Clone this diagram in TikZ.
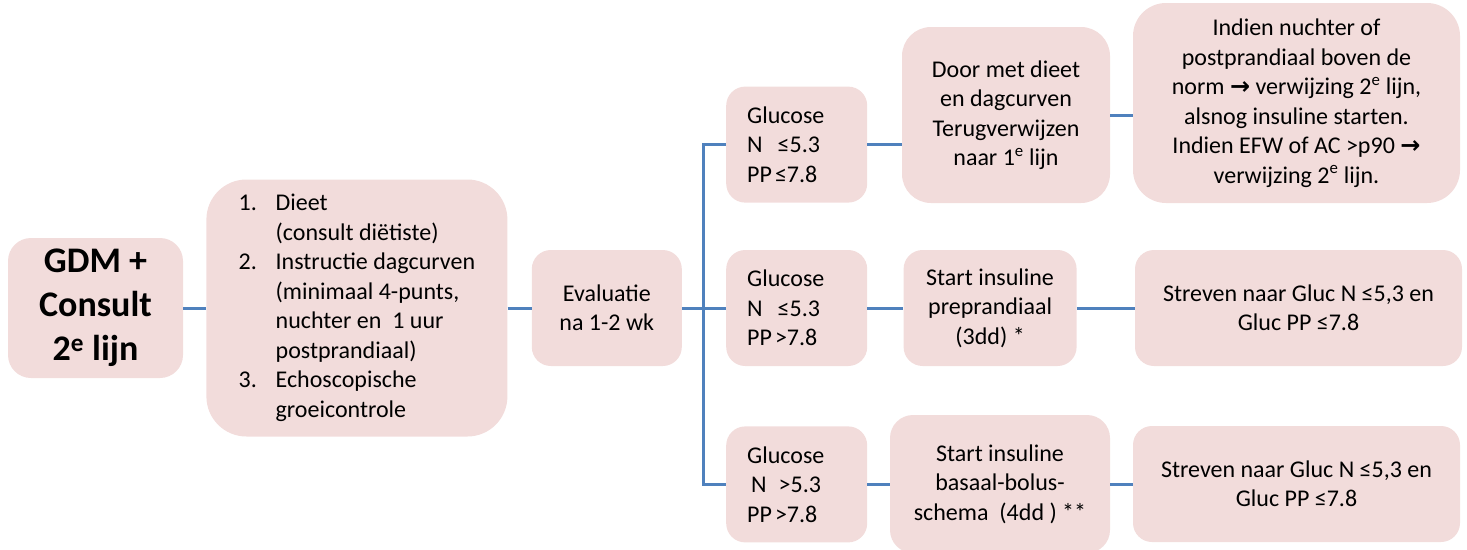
\documentclass[tikz,border=0pt]{standalone}
\usepackage{fontspec}
\setmainfont{Carlito}
\newfontfamily\symfont{DejaVu Sans}
\usepackage{tikz}
\usetikzlibrary{positioning}
\definecolor{roze}{HTML}{F2DCDB}
\definecolor{lijnblauw}{HTML}{4F81BD}
\tikzset{
    %Define style for boxes
    kader/.style={
           rectangle,
           rounded corners=19pt,
           fill=roze,
           draw=none,
           inner sep=0pt,
           minimum width=141pt,
           minimum height=116pt,
           align=center,
           font=\fontsize{24}{29.5}\selectfont},
    glukose/.style={
           kader,
           text width=99pt,
           align=left},
    % Define line style
    lijn/.style={
           draw=lijnblauw,
           line width=3pt}
}
\begin{document}
\begin{tikzpicture}[x=1pt,y=-1pt]
\useasboundingbox (0,0) rectangle (1467,549);
 %nodes
\node[kader, minimum width=175pt, minimum height=140pt, rounded corners=23pt, font=\bfseries\fontsize{36}{44}\selectfont](gdm) at (95.5,308){GDM +\\Consult\\2\textsuperscript{e} lijn};
\node[kader, minimum width=301pt, minimum height=257pt, rounded corners=40pt, align=left, right=23pt of gdm](advies){%
\makebox[37pt][l]{1.}Dieet\\
\hspace*{37pt}(consult diëtiste)\\
\makebox[37pt][l]{2.}Instructie dagcurven\\
\hspace*{37pt}(minimaal 4-punts,\\
\hspace*{37pt}nuchter en\ \ 1 uur\\
\hspace*{37pt}postprandiaal)\\
\makebox[37pt][l]{3.}Echoscopische\\
\hspace*{37pt}groeicontrole};
\node[kader, minimum width=150pt, right=24pt of advies](eval){Evaluatie\\na 1-2 wk};
\node[glukose, right=44pt of eval](gmid){Glucose\\N\hspace{15pt}≤5.3\\PP\hspace{3pt}>7.8};
\node[glukose, above=47pt of gmid](gtop){Glucose\\N\hspace{15pt}≤5.3\\PP\hspace{3pt}≤7.8};
\node[glukose, below=60pt of gmid](gbot){Glucose\\\hspace*{4pt}N\hspace{12pt}>5.3\\PP\hspace{3pt}>7.8};
\node[kader, minimum width=173pt, right=36pt of gmid](pre){Start insuline\\preprandiaal\\(3dd) *};
\node[kader, minimum width=327pt, right=58pt of pre](strevmid){Streven naar Gluc N ≤5,3 en\\Gluc PP ≤7.8};
\node[kader, minimum width=208pt, minimum height=176pt, rounded corners=29pt](door) at (1006,115){Door met dieet\\en dagcurven\\Terugverwijzen\\naar 1\textsuperscript{e} lijn};
\node[kader, minimum width=327pt, minimum height=200pt, rounded corners=33pt](indien) at (1296.5,103){Indien nuchter of\\postprandiaal boven de\\norm {\symfont\bfseries →} verwijzing 2\textsuperscript{e} lijn,\\alsnog insuline starten.\\Indien EFW of AC >p90 {\symfont\bfseries →}\\verwijzing 2\textsuperscript{e} lijn.};
\node[kader, minimum width=220pt, minimum height=138pt, rounded corners=23pt](basaal) at (1000,484){Start insuline\\basaal-bolus-\\schema\ \ (4dd ) **};
\node[kader, minimum width=327pt](strevbot) at (1296.5,484){Streven naar Gluc N ≤5,3 en\\Gluc PP ≤7.8};
\path (eval.east) ++(21pt,0pt) coordinate (splits);
 %lines
\draw[lijn] (gdm.east) -- (advies.west);
\draw[lijn] (advies.east) -- (eval.west);
\draw[lijn] (eval.east) -- (splits);
\draw[lijn] (gtop.west) -| (splits) |- (gbot.west);
\draw[lijn] (splits) -- (gmid.west);
\draw[lijn] (gtop.east) -- (gtop.east -| door.west);
\draw[lijn] (gmid.east) -- (pre.west);
\draw[lijn] (gbot.east) -- (gbot.east -| basaal.west);
\draw[lijn] (door.east) -- (door.east -| indien.west);
\draw[lijn] (pre.east) -- (strevmid.west);
\draw[lijn] (basaal.east) -- (strevbot.west);
\end{tikzpicture}
\end{document}
